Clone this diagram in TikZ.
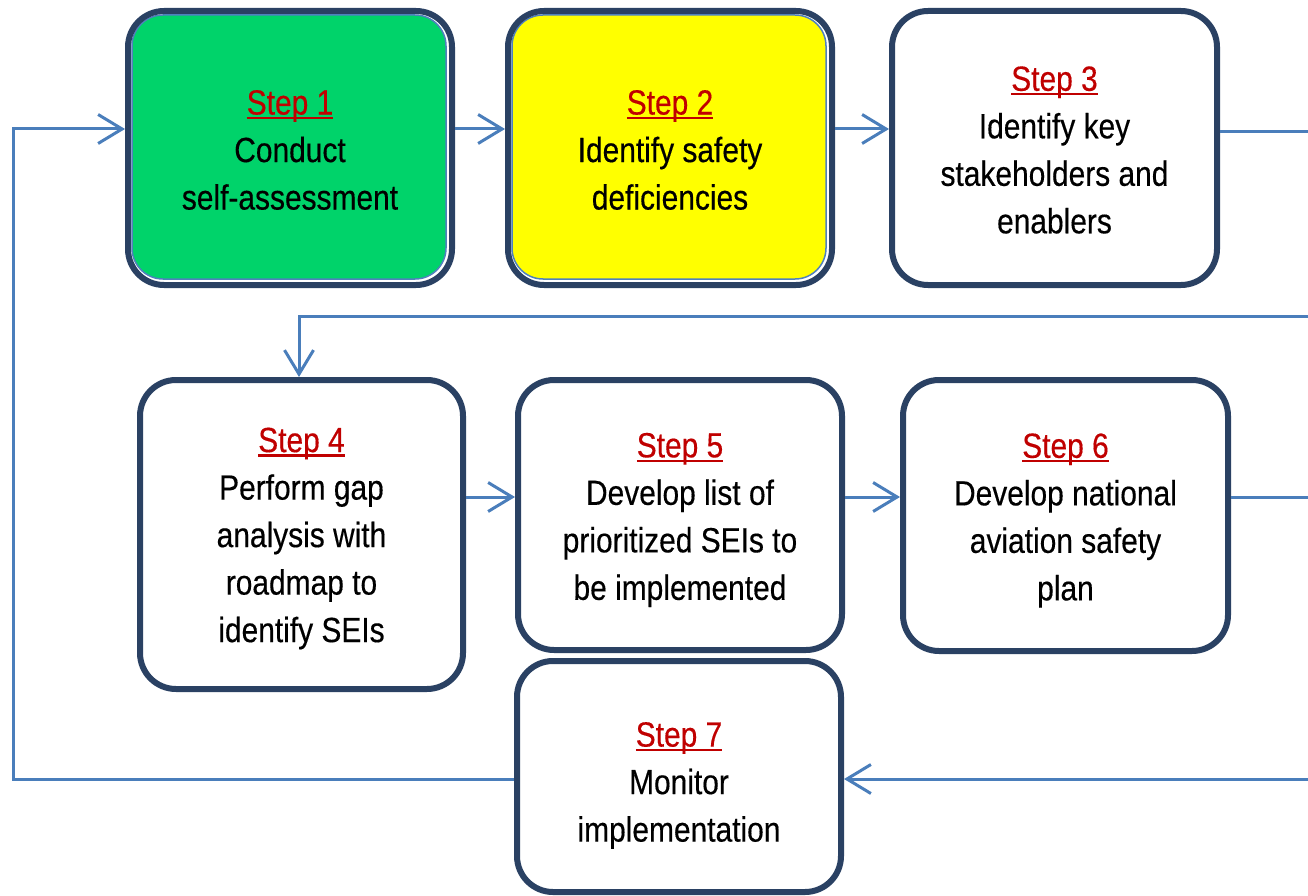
\documentclass[tikz,border=0pt]{standalone}
\usepackage{fontspec}
\setmainfont{Liberation Sans}[FakeStretch=0.855,FakeBold=0.35]
\usetikzlibrary{arrows.meta}
\definecolor{navy}{RGB}{42,65,99}
\definecolor{connblue}{RGB}{74,126,187}
\definecolor{stepred}{RGB}{192,0,0}
\definecolor{stepgreen}{RGB}{0,211,106}
\definecolor{stepyellow}{RGB}{255,255,0}
\definecolor{inblue}{RGB}{79,129,189}
\newcommand\stepu[1]{{\color{stepred}\setbox0\hbox{#1}\rlap{\rule[-4.5pt]{\wd0}{2.2pt}}\box0}}
\begin{document}
\begin{tikzpicture}[x=1pt,y=-1pt,
  box/.style={draw=navy, line width=6pt, fill=white, rounded corners=36pt, inner sep=0pt},
  txt/.style={inner sep=0pt, align=center, font=\fontsize{35}{47.5}\selectfont, text=black},
  framed/.style={path picture={\draw[fill=#1, draw=inblue, line width=1.5pt, rounded corners=31pt]
    ([xshift=4pt,yshift=-4pt]path picture bounding box.north west) rectangle
    ([xshift=-6pt,yshift=6pt]path picture bounding box.south east);}},
  link/.style={draw=connblue, line width=3pt},
  arr/.style={link, -{Straight Barb[length=24pt,width=29pt]}}]
\useasboundingbox (0,0) rectangle (1308,896);

\node[box, framed=stepgreen, minimum width=324pt, minimum height=274pt] (s1) at (290,148) {};
\node[box, framed=stepyellow, minimum width=324pt, minimum height=274pt] (s2) at (670,148) {};
\node[box, minimum width=325pt, minimum height=274pt] (s3) at (1054.5,148) {};
\node[box, minimum width=323pt, minimum height=309pt] (s4) at (301.5,534.5) {};
\node[box, minimum width=324pt, minimum height=270pt] (s5) at (680,515) {};
\node[box, minimum width=325pt, minimum height=271pt] (s6) at (1065.5,515.5) {};
\node[box, minimum width=324pt, minimum height=231pt] (s7) at (679,776.5) {};

\node[txt] (t1) at ([yshift=-2pt]s1.center) {\stepu{Step 1}\\Conduct\\self-assessment};
\node[txt] (t2) at ([yshift=-2pt]s2.center) {\stepu{Step 2}\\Identify safety\\deficiencies};
\node[txt] (t3) at ([yshift=-2pt]s3.center) {\stepu{Step 3}\\Identify key\\stakeholders and\\enablers};
\node[txt] (t4) at ([yshift=-4pt]s4.center) {\stepu{Step 4}\\Perform gap\\analysis with\\roadmap to\\identify SEIs};
\node[txt] (t5) at ([yshift=-5pt]s5.center) {\stepu{Step 5}\\Develop list of\\prioritized SEIs to\\be implemented};
\node[txt] (t6) at ([yshift=-5pt]s6.center) {\stepu{Step 6}\\Develop national\\aviation safety\\plan};
\node[txt] (t7) at ([yshift=-9pt]s7.center) {\stepu{Step 7}\\Monitor\\implementation};

\coordinate (r1) at (0,129);
\coordinate (r2) at (0,497);
\coordinate (r3) at (0,779);
\coordinate (e1) at (1308,132);
\coordinate (e2) at (1308,316);
\coordinate (k4) at (299,316);
\coordinate (e3) at (1308,497);
\coordinate (e4) at (1308,779);
\coordinate (lb) at (13,779);
\coordinate (lt) at (13,129);

\draw[arr] (s7.west |- r3) -- (lb) -- (lt) -- (s1.west |- lt);
\draw[arr] (s1.east |- r1) -- (s2.west |- r1);
\draw[arr] (s2.east |- r1) -- (s3.west |- r1);
\draw[link] (s3.east |- e1) -- (e1);
\draw[arr] (e2) -- (k4) -- (k4 |- s4.north);
\draw[arr] (s4.east |- r2) -- (s5.west |- r2);
\draw[arr] (s5.east |- r2) -- (s6.west |- r2);
\draw[link] (s6.east |- e3) -- (e3);
\draw[arr] (e4) -- (s7.east |- e4);
\end{tikzpicture}
\end{document}
